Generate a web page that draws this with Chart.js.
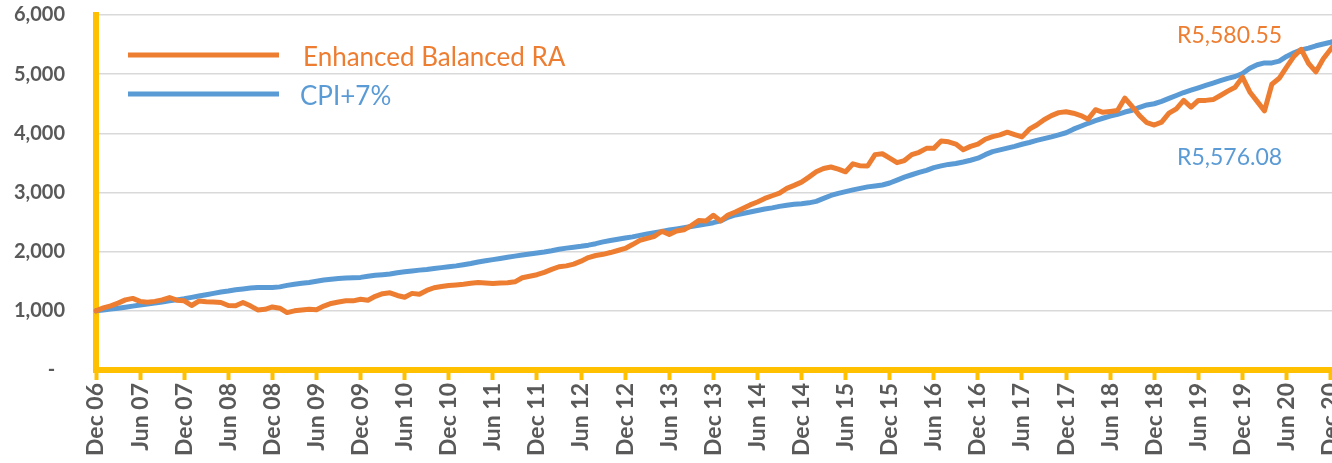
<!DOCTYPE html>
<html>
<head>
<meta charset="utf-8">
<script src="https://cdn.jsdelivr.net/npm/chart.js@4.4.1/dist/chart.umd.min.js"></script>
<style>
html, body { margin: 0; padding: 0; overflow: hidden; background: #ffffff; }
#wrap { position: relative; width: 1338px; height: 463px; }
</style>
</head>
<body>
<div id="wrap"><canvas id="c"></canvas></div>
<script>
// ---- Data (monthly, Dec 2006 .. Jan 2021) ----
const seriesNames = ['Enhanced Balanced RA', 'CPI+7%'];

const enhanced = [
  1000,1050,1085,1130,1185,1210,1160,1145,1160,1185,
  1225,1180,1170,1090,1165,1155,1150,1140,1090,1085,
  1140,1085,1015,1025,1065,1045,970,1000,1015,1028,
  1020,1080,1125,1150,1169,1169,1195,1180,1245,1290,
  1305,1260,1230,1295,1280,1345,1390,1410,1428,1438,
  1450,1465,1477,1470,1462,1472,1475,1490,1560,1585,
  1610,1650,1700,1745,1760,1790,1840,1900,1935,1955,
  1985,2020,2055,2120,2190,2225,2260,2345,2292,2350,
  2370,2440,2525,2520,2615,2520,2620,2670,2730,2790,
  2840,2900,2945,2990,3070,3120,3175,3260,3350,3405,
  3431,3395,3350,3485,3450,3448,3640,3655,3580,3505,
  3540,3640,3680,3746,3746,3870,3856,3818,3724,3780,
  3818,3900,3945,3975,4020,3980,3940,4070,4140,4230,
  4300,4350,4365,4340,4300,4240,4400,4355,4370,4385,
  4595,4450,4300,4180,4140,4190,4340,4414,4557,4443,
  4557,4557,4570,4640,4713,4780,4950,4700,4540,4380,
  4830,4930,5120,5300,5420,5180,5040,5260,5420,5580.55
];

const cpiPlus7 = [
  1000,1015,1030,1045,1062,1080,1098,1115,1130,1150,
  1168,1185,1205,1228,1250,1272,1295,1318,1335,1355,
  1370,1385,1393,1395,1395,1405,1430,1450,1465,1480,
  1500,1520,1535,1548,1555,1560,1565,1585,1600,1610,
  1622,1645,1660,1675,1688,1700,1715,1730,1745,1760,
  1780,1800,1825,1845,1865,1885,1905,1925,1942,1960,
  1978,1995,2015,2040,2060,2075,2090,2110,2135,2165,
  2190,2210,2230,2250,2275,2300,2320,2340,2365,2385,
  2405,2425,2445,2465,2490,2520,2580,2620,2645,2670,
  2695,2720,2740,2765,2785,2800,2810,2825,2850,2900,
  2950,2985,3015,3045,3070,3095,3110,3127,3160,3210,
  3260,3300,3340,3375,3420,3450,3475,3490,3515,3545,
  3580,3640,3690,3720,3750,3780,3815,3845,3880,3910,
  3940,3975,4010,4070,4120,4170,4215,4255,4290,4320,
  4360,4390,4440,4480,4500,4540,4590,4640,4690,4730,
  4770,4810,4850,4890,4930,4960,5010,5100,5160,5190,
  5190,5220,5300,5360,5410,5440,5480,5510,5540,5576.08
];

const monthNames = ['Jan','Feb','Mar','Apr','May','Jun','Jul','Aug','Sep','Oct','Nov','Dec'];
// category labels: one per month starting Dec 06
const categories = enhanced.map((_, i) => {
  const m = (11 + i) % 12;
  const y = 6 + Math.floor((11 + i) / 12);
  return monthNames[m] + ' ' + String(y).padStart(2, '0');
});
const tickLabels = ['Dec 06','Jun 07','Dec 07','Jun 08','Dec 08','Jun 09','Dec 09','Jun 10','Dec 10',
  'Jun 11','Dec 11','Jun 12','Dec 12','Jun 13','Dec 13','Jun 14','Dec 14','Jun 15','Dec 15',
  'Jun 16','Dec 16','Jun 17','Dec 17','Jun 18','Dec 18','Jun 19','Dec 19','Jun 20','Dec 20'];
const yTicks = [0, 1000, 2000, 3000, 4000, 5000, 6000];
const endLabels = ['R5,580.55', 'R5,576.08'];

// ---- Styles ----
const ORANGE = '#ED7D31';
const BLUE = '#5B9BD5';
const GOLD = '#FFC000';
const GREY = '#595959';

const overlay = {
  id: 'overlay',
  afterDraw(chart) {
    const ctx = chart.ctx;
    ctx.save();
    // legend
    const items = [
      { text: seriesNames[0], color: ORANGE, lineY: 55, textX: 303, base: 66 },
      { text: seriesNames[1], color: BLUE, lineY: 94, textX: 300, base: 105 }
    ];
    items.forEach(it => {
      ctx.strokeStyle = it.color;
      ctx.lineWidth = 5;
      ctx.lineCap = 'butt';
      ctx.beginPath();
      ctx.moveTo(128, it.lineY);
      ctx.lineTo(279, it.lineY);
      ctx.stroke();
      ctx.fillStyle = it.color;
      ctx.font = '26px Lato';
      ctx.textAlign = 'left';
      ctx.textBaseline = 'alphabetic';
      ctx.fillText(it.text, it.textX, it.base);
    });
    // end value labels
    ctx.font = '23px Lato';
    ctx.fillStyle = ORANGE;
    ctx.fillText(endLabels[0], 1177, 43);
    ctx.fillStyle = BLUE;
    ctx.fillText(endLabels[1], 1177, 165);
    ctx.restore();
  }
};

function build() {
  new Chart(document.getElementById('c'), {
    type: 'line',
    data: {
      labels: categories,
      datasets: [
        { label: seriesNames[0], data: enhanced, borderColor: ORANGE, backgroundColor: ORANGE,
          borderWidth: 5, pointRadius: 0, tension: 0, borderJoinStyle: 'round', borderCapStyle: 'round' },
        { label: seriesNames[1], data: cpiPlus7, borderColor: BLUE, backgroundColor: BLUE,
          borderWidth: 5, pointRadius: 0, tension: 0, borderJoinStyle: 'round', borderCapStyle: 'round' }
      ]
    },
    options: {
      responsive: true,
      maintainAspectRatio: false,
      animation: false,
      devicePixelRatio: 1,
      layout: { padding: { top: 15, right: 0, left: 0, bottom: 0 } },
      plugins: { legend: { display: false }, tooltip: { enabled: false } },
      scales: {
        x: {
          type: 'category',
          offset: false,
          grid: {
            display: true,
            drawOnChartArea: false,
            drawTicks: true,
            tickLength: 10,
            tickWidth: 4,
            tickColor: (c) => (c.index % 6 === 0 ? GOLD : 'rgba(0,0,0,0)')
          },
          border: { display: true, color: GOLD, width: 6 },
          ticks: {
            autoSkip: false,
            maxRotation: 90,
            minRotation: 90,
            padding: 3,
            color: GREY,
            font: { family: 'Lato', weight: 'bold', size: 23 },
            callback: (v, i) => (i % 6 === 0 ? tickLabels[i / 6] : '')
          },
          afterFit: (s) => { s.height = 93; s.paddingLeft = 0; s.paddingRight = 0; }
        },
        y: {
          min: yTicks[0],
          max: yTicks[yTicks.length - 1],
          afterBuildTicks: (s) => { s.ticks = yTicks.map(v => ({ value: v })); },
          grid: { color: '#D9D9D9', lineWidth: 1.5, drawTicks: false },
          border: { display: true, color: GOLD, width: 6 },
          ticks: {
            padding: 31,
            color: GREY,
            font: { family: 'Lato', weight: 'bold', size: 20 },
            callback: (v) => (v === 0 ? '-  ' : v.toLocaleString('en-US'))
          },
          afterFit: (s) => { s.width = 96; s.paddingTop = 0; s.paddingBottom = 0; }
        }
      }
    },
    plugins: [overlay]
  });
}

Promise.all([
  document.fonts.load('bold 20px Lato'),
  document.fonts.load('26px Lato')
]).then(build, build);
</script>
</body>
</html>
